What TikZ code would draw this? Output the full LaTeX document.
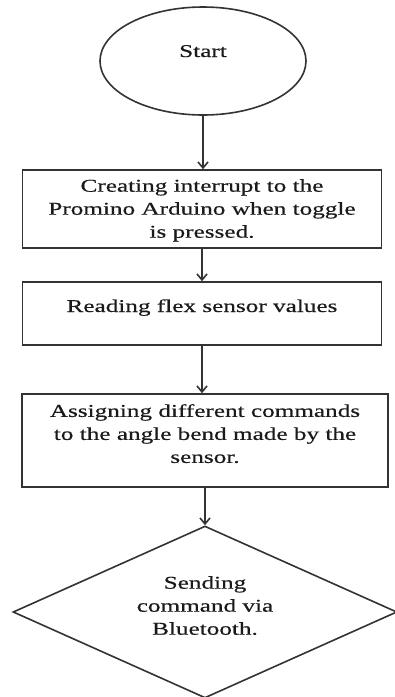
\documentclass[tikz,border=0pt]{standalone}
\usepackage{fontspec}
\setmainfont{Liberation Serif}[FakeStretch=1.4,FakeBold=0.5]
\usetikzlibrary{arrows.meta,shapes.geometric}
\definecolor{ln}{HTML}{333333}
\definecolor{tx}{HTML}{1A1A1A}
\begin{document}
\begin{tikzpicture}[x=1pt,y=-1pt,
  shapebox/.style={draw=ln,line width=1.6pt,rectangle,inner sep=0pt},
  txt/.style={text=tx,align=center,inner sep=0pt,font=\fontsize{18}{23}\selectfont},
  flow/.style={draw=ln,line width=1.6pt,-{Straight Barb[length=6pt,width=10pt]}}]
\useasboundingbox (0,0) rectangle (395,697);
% start ellipse
\node[draw=ln,line width=1.6pt,ellipse,minimum width=206pt,minimum height=108pt,inner sep=0pt] (start) at (203,61) {};
\node[txt,anchor=base] (tstart) at (203,57) {Start};
% box 1
\node[shapebox,minimum width=359pt,minimum height=78pt] (b1) at (202,209) {};
\node[txt,anchor=north] (t1) at (202,179) {Creating interrupt to the\\Promino Arduino when toggle\\is pressed.};
% box 2
\node[shapebox,minimum width=359pt,minimum height=63pt] (b2) at (202,313.5) {};
\node[txt,anchor=base] (t2) at (202,312) {Reading flex sensor values};
% box 3
\node[shapebox,minimum width=366pt,minimum height=93pt] (b3) at (205,440.5) {};
\node[txt,anchor=north] (t3) at (205,404) {Assigning different commands\\to the angle bend made by the\\sensor.};
% diamond
\node[draw=ln,line width=1.6pt,diamond,minimum width=384pt,minimum height=172pt,inner sep=0pt] (d) at (205,612) {};
\node[txt,anchor=north] (td) at (205,576) {Sending\\command via\\Bluetooth.};
% connectors
\draw[flow] (start.south) -- (start.south |- b1.north);
\draw[flow] (b1.south) -- (b1.south |- b2.north);
\draw[flow] (b2.south) -- (b2.south |- b3.north);
\draw[flow] (b3.south) -- (d.north);
\end{tikzpicture}
\end{document}
